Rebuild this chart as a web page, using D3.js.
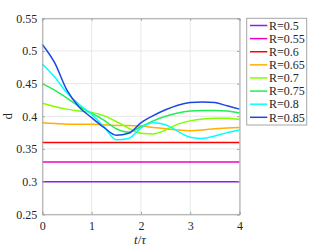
<!DOCTYPE html>
<html>
<head>
<meta charset="utf-8">
<script src="https://cdn.jsdelivr.net/npm/d3@7"></script>
<style>
  body { margin: 0; background: #fff; }
  text { font-family: "Liberation Serif", "DejaVu Serif", serif; fill: #262626; }
</style>
</head>
<body>
<div id="chart"></div>
<script>
// data
var times = [0, 0.25, 0.5, 0.75, 1, 1.25, 1.5, 1.75, 2, 2.25, 2.5, 2.75, 3, 3.25, 3.5, 3.75, 4];
var labels = ["R=0.5", "R=0.55", "R=0.6", "R=0.65", "R=0.7", "R=0.75", "R=0.8", "R=0.85"];
var colors = ["#8a1cff", "#f000c0", "#ff0000", "#ffb000", "#80ff00", "#22ee55", "#00ffff", "#1a47e6"];
var d_050 = [0.300, 0.300, 0.300, 0.300, 0.300, 0.300, 0.300, 0.300, 0.300, 0.300, 0.300, 0.300, 0.300, 0.300, 0.300, 0.300, 0.300];
var d_055 = [0.330, 0.330, 0.330, 0.330, 0.330, 0.330, 0.330, 0.330, 0.330, 0.330, 0.330, 0.330, 0.330, 0.330, 0.330, 0.330, 0.330];
var d_060 = [0.360, 0.360, 0.360, 0.360, 0.360, 0.360, 0.360, 0.360, 0.360, 0.360, 0.360, 0.360, 0.360, 0.360, 0.360, 0.360, 0.360];
var d_065 = [0.390, 0.389, 0.388, 0.388, 0.388, 0.387, 0.386, 0.386, 0.385, 0.383, 0.381, 0.379, 0.378, 0.379, 0.381, 0.382, 0.383];
var d_070 = [0.420, 0.415, 0.411, 0.408, 0.406, 0.401, 0.392, 0.382, 0.374, 0.373, 0.379, 0.388, 0.393, 0.396, 0.397, 0.397, 0.395];
var d_075 = [0.450, 0.440, 0.428, 0.415, 0.405, 0.394, 0.381, 0.376, 0.384, 0.393, 0.400, 0.405, 0.408, 0.409, 0.409, 0.408, 0.405];
var d_080 = [0.480, 0.460, 0.436, 0.418, 0.403, 0.384, 0.364, 0.366, 0.382, 0.390, 0.387, 0.377, 0.368, 0.366, 0.370, 0.375, 0.379];
var d_085 = [0.510, 0.482, 0.440, 0.414, 0.398, 0.383, 0.371, 0.374, 0.390, 0.401, 0.410, 0.417, 0.421, 0.422, 0.421, 0.416, 0.411];
var xTicks = [0, 1, 2, 3, 4];
var yTicks = [0.25, 0.3, 0.35, 0.4, 0.45, 0.5, 0.55];

var allSeries = [d_050, d_055, d_060, d_065, d_070, d_075, d_080, d_085];

var W = 332, H = 249;
var pLeft = 42.3, pRight = 239.5, pTop = 18.3, pBottom = 214.3;
var serif = "'Liberation Serif', 'DejaVu Serif', serif";

var svg = d3.select("#chart").append("svg").attr("width", W).attr("height", H);

var x = d3.scaleLinear().domain([0, 4]).range([pLeft, pRight]);
var y = d3.scaleLinear().domain([0.25, 0.55]).range([pBottom, pTop]);

// grid
var grid = svg.append("g").attr("stroke", "#e8e8e8").attr("stroke-width", 1);
xTicks.forEach(function(t){
	grid.append("line").attr("x1", x(t)).attr("x2", x(t)).attr("y1", pTop).attr("y2", pBottom);
});
yTicks.forEach(function(t){
	grid.append("line").attr("x1", pLeft).attr("x2", pRight).attr("y1", y(t)).attr("y2", y(t));
});

// lines
var line = d3.line()
	.x(function(d, i){ return x(times[i]); })
	.y(function(d){ return y(d); })
	.curve(d3.curveMonotoneX);

svg.append("g").selectAll("path")
	.data(allSeries)
	.enter().append("path")
	.attr("d", line)
	.attr("fill", "none")
	.attr("stroke", function(d, i){ return colors[i]; })
	.attr("stroke-width", 1.5);

// axes (box with inward ticks)
var axCol = "#a6a6a6";
var xAxis = d3.axisBottom(x).tickValues(xTicks).tickSize(-2.5).tickPadding(7).tickFormat(d3.format("d"));
var yAxis = d3.axisLeft(y).tickValues(yTicks).tickSize(-2.5).tickPadding(5).tickFormat(function(d){ return String(+d.toFixed(2)); });

var gx = svg.append("g").attr("transform", "translate(0," + pBottom + ")").call(xAxis);
var gy = svg.append("g").attr("transform", "translate(" + pLeft + ",0)").call(yAxis);
var gxt = svg.append("g").attr("transform", "translate(0," + pTop + ")").call(d3.axisTop(x).tickValues(xTicks).tickSize(-2.5).tickFormat(""));
var gyr = svg.append("g").attr("transform", "translate(" + pRight + ",0)").call(d3.axisRight(y).tickValues(yTicks).tickSize(-2.5).tickFormat(""));

[gx, gy, gxt, gyr].forEach(function(g){
	g.attr("font-family", serif);
	g.select(".domain").attr("stroke", axCol);
	g.selectAll(".tick line").attr("stroke", axCol);
	g.selectAll("text").style("font-size", "12px").attr("fill", "#262626");
});

// axis labels
svg.append("text")
	.attr("transform", "translate(12," + ((pTop + pBottom) / 2) + ") rotate(-90)")
	.attr("text-anchor", "middle")
	.style("font-size", "13px")
	.text("d");

var xl = svg.append("text")
	.attr("x", 140)
	.attr("y", 244)
	.attr("text-anchor", "middle")
	.style("font-size", "13px")
	.style("font-style", "italic");
xl.append("tspan").text("t");
xl.append("tspan").style("font-style", "normal").text("/");
xl.append("tspan").text("τ");

// legend
var lg = svg.append("g");
lg.append("rect")
	.attr("x", 246.7).attr("y", 18.3).attr("width", 60).attr("height", 106.7)
	.attr("fill", "#fff").attr("stroke", axCol).attr("stroke-width", 1);

var ly = d3.scalePoint().domain(labels).range([25.5, 117.3]);
var items = lg.selectAll("g.item").data(labels).enter().append("g").attr("class", "item");
items.append("line")
	.attr("x1", 250).attr("x2", 267.3)
	.attr("y1", function(d){ return ly(d); }).attr("y2", function(d){ return ly(d); })
	.attr("stroke", function(d, i){ return colors[i]; })
	.attr("stroke-width", 1.5);
items.append("text")
	.attr("x", 269).attr("y", function(d){ return ly(d); })
	.attr("dy", "0.35em")
	.style("font-size", "12px")
	.text(function(d){ return d; });
</script>
</body>
</html>
